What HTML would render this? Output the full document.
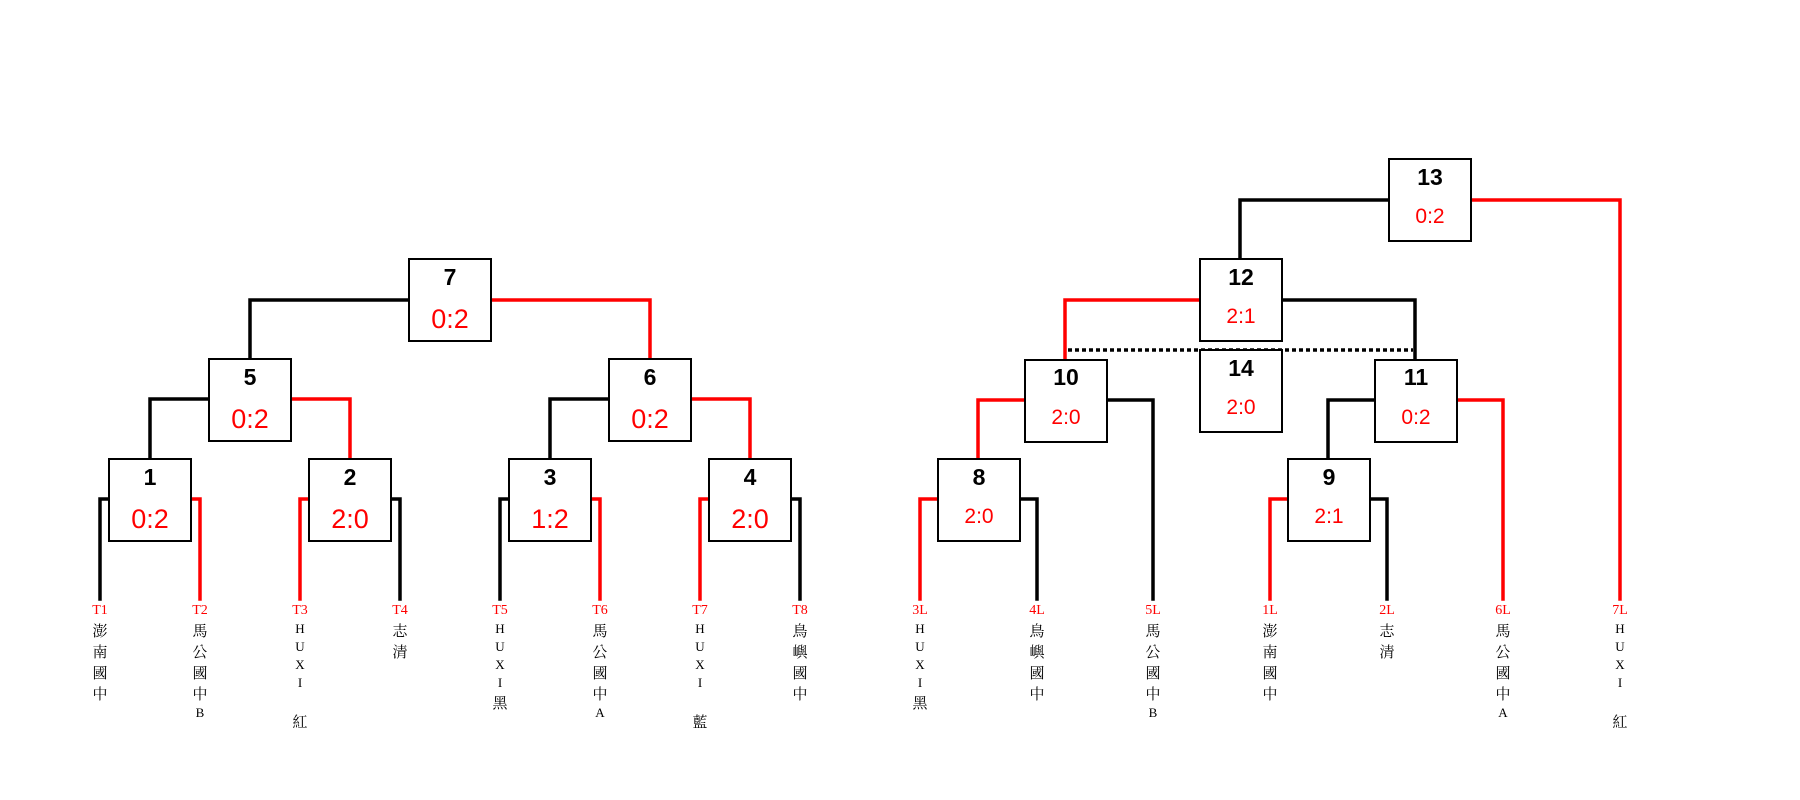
<!DOCTYPE html>
<html><head><meta charset="utf-8"><style>
html,body{margin:0;padding:0;background:#fff;width:1800px;height:800px;overflow:hidden}
svg text{font-family:"Liberation Serif","Noto Serif CJK TC",serif}
.n{font-family:"Liberation Sans","DejaVu Sans",sans-serif;font-weight:bold;fill:#000}
.s{font-family:"Liberation Sans","DejaVu Sans",sans-serif;fill:#f00}
</style></head><body>
<svg width="1800" height="800" xmlns="http://www.w3.org/2000/svg">
<g fill="none" stroke-width="3.5" stroke-linecap="square">
<!-- left tree -->
<path d="M100,599V499H108" stroke="#000"/><path d="M200,599V499H191" stroke="#f00"/>
<path d="M300,599V499H308" stroke="#f00"/><path d="M400,599V499H391" stroke="#000"/>
<path d="M500,599V499H508" stroke="#000"/><path d="M600,599V499H591" stroke="#f00"/>
<path d="M700,599V499H708" stroke="#f00"/><path d="M800,599V499H791" stroke="#000"/>
<path d="M150,458V399H208" stroke="#000"/><path d="M350,458V399H291" stroke="#f00"/>
<path d="M550,458V399H608" stroke="#000"/><path d="M750,458V399H691" stroke="#f00"/>
<path d="M250,358V300H408" stroke="#000"/><path d="M650,358V300H491" stroke="#f00"/>
<!-- right tree -->
<path d="M920,599V499H937" stroke="#f00"/><path d="M1037,599V499H1020" stroke="#000"/>
<path d="M1270,599V499H1287" stroke="#f00"/><path d="M1387,599V499H1370" stroke="#000"/>
<path d="M978,458V400H1024" stroke="#f00"/><path d="M1153,599V400H1107" stroke="#000"/>
<path d="M1328,458V400H1374" stroke="#000"/><path d="M1503,599V400H1457" stroke="#f00"/>
<path d="M1065,358V300H1199" stroke="#f00"/><path d="M1415,358V300H1282" stroke="#000"/>
<path d="M1240,258V200H1388" stroke="#000"/><path d="M1620,599V200H1471" stroke="#f00"/>
</g>
<line x1="1068" y1="350" x2="1413" y2="350" stroke="#000" stroke-width="3.5" stroke-dasharray="4,3"/>
<g fill="#fff" stroke="#000" stroke-width="2">
<rect x="109" y="459" width="82" height="82"/><rect x="309" y="459" width="82" height="82"/>
<rect x="509" y="459" width="82" height="82"/><rect x="709" y="459" width="82" height="82"/>
<rect x="209" y="359" width="82" height="82"/><rect x="609" y="359" width="82" height="82"/>
<rect x="409" y="259" width="82" height="82"/>
<rect x="938" y="459" width="82" height="82"/><rect x="1288" y="459" width="82" height="82"/>
<rect x="1025" y="360" width="82" height="82"/><rect x="1375" y="360" width="82" height="82"/>
<rect x="1200" y="350" width="82" height="82"/>
<rect x="1200" y="259" width="82" height="82"/><rect x="1389" y="159" width="82" height="82"/>
</g>
<g text-anchor="middle">
<g class="n" font-size="23">
<text x="150" y="485" class="n">1</text><text x="350" y="485" class="n">2</text><text x="550" y="485" class="n">3</text><text x="750" y="485" class="n">4</text>
<text x="250" y="385" class="n">5</text><text x="650" y="385" class="n">6</text><text x="450" y="285" class="n">7</text>
<text x="979" y="485" class="n">8</text><text x="1329" y="485" class="n">9</text>
<text x="1066" y="385" class="n">10</text><text x="1416" y="385" class="n">11</text>
<text x="1241" y="285" class="n">12</text><text x="1430" y="185" class="n">13</text><text x="1241" y="376" class="n">14</text>
</g>
<g font-size="27">
<text x="150" y="528" class="s">0:2</text><text x="350" y="528" class="s">2:0</text><text x="550" y="528" class="s">1:2</text><text x="750" y="528" class="s">2:0</text>
<text x="250" y="428" class="s">0:2</text><text x="650" y="428" class="s">0:2</text><text x="450" y="328" class="s">0:2</text>
</g>
<g font-size="21">
<text x="979" y="523" class="s">2:0</text><text x="1329" y="523" class="s">2:1</text>
<text x="1066" y="424" class="s">2:0</text><text x="1416" y="424" class="s">0:2</text>
<text x="1241" y="323" class="s">2:1</text><text x="1430" y="223" class="s">0:2</text><text x="1241" y="414" class="s">2:0</text>
</g>
<g font-size="14" fill="#f00">
<text x="100" y="614">T1</text><text x="200" y="614">T2</text><text x="300" y="614">T3</text><text x="400" y="614">T4</text>
<text x="500" y="614">T5</text><text x="600" y="614">T6</text><text x="700" y="614">T7</text><text x="800" y="614">T8</text>
<text x="920" y="614">3L</text><text x="1037" y="614">4L</text><text x="1153" y="614">5L</text><text x="1270" y="614">1L</text>
<text x="1387" y="614">2L</text><text x="1503" y="614">6L</text><text x="1620" y="614">7L</text>
</g>
<g fill="#000" font-size="15">
<!-- 澎南國中 -->
<text x="100" y="636">澎</text><text x="100" y="657">南</text><text x="100" y="678">國</text><text x="100" y="699">中</text>
<text x="1270" y="636">澎</text><text x="1270" y="657">南</text><text x="1270" y="678">國</text><text x="1270" y="699">中</text>
<!-- 馬公國中B -->
<text x="200" y="636">馬</text><text x="200" y="657">公</text><text x="200" y="678">國</text><text x="200" y="699">中</text><text x="200" y="717" font-size="13">B</text>
<text x="1153" y="636">馬</text><text x="1153" y="657">公</text><text x="1153" y="678">國</text><text x="1153" y="699">中</text><text x="1153" y="717" font-size="13">B</text>
<!-- 馬公國中A -->
<text x="600" y="636">馬</text><text x="600" y="657">公</text><text x="600" y="678">國</text><text x="600" y="699">中</text><text x="600" y="717" font-size="13">A</text>
<text x="1503" y="636">馬</text><text x="1503" y="657">公</text><text x="1503" y="678">國</text><text x="1503" y="699">中</text><text x="1503" y="717" font-size="13">A</text>
<!-- 志清 -->
<text x="400" y="636">志</text><text x="400" y="657">清</text>
<text x="1387" y="636">志</text><text x="1387" y="657">清</text>
<!-- 鳥嶼國中 -->
<text x="800" y="636">鳥</text><text x="800" y="657">嶼</text><text x="800" y="678">國</text><text x="800" y="699">中</text>
<text x="1037" y="636">鳥</text><text x="1037" y="657">嶼</text><text x="1037" y="678">國</text><text x="1037" y="699">中</text>
<!-- HUXI 紅 -->
<g font-size="13">
<text x="300" y="633">H</text><text x="300" y="651">U</text><text x="300" y="669">X</text><text x="300" y="687">I</text>
<text x="1620" y="633">H</text><text x="1620" y="651">U</text><text x="1620" y="669">X</text><text x="1620" y="687">I</text>
<text x="700" y="633">H</text><text x="700" y="651">U</text><text x="700" y="669">X</text><text x="700" y="687">I</text>
<text x="500" y="633">H</text><text x="500" y="651">U</text><text x="500" y="669">X</text><text x="500" y="687">I</text>
<text x="920" y="633">H</text><text x="920" y="651">U</text><text x="920" y="669">X</text><text x="920" y="687">I</text>
</g>
<text x="300" y="727">紅</text><text x="1620" y="727">紅</text><text x="700" y="727">藍</text>
<text x="500" y="708">黑</text><text x="920" y="708">黑</text>
</g>
</g>
</svg>
</body></html>
